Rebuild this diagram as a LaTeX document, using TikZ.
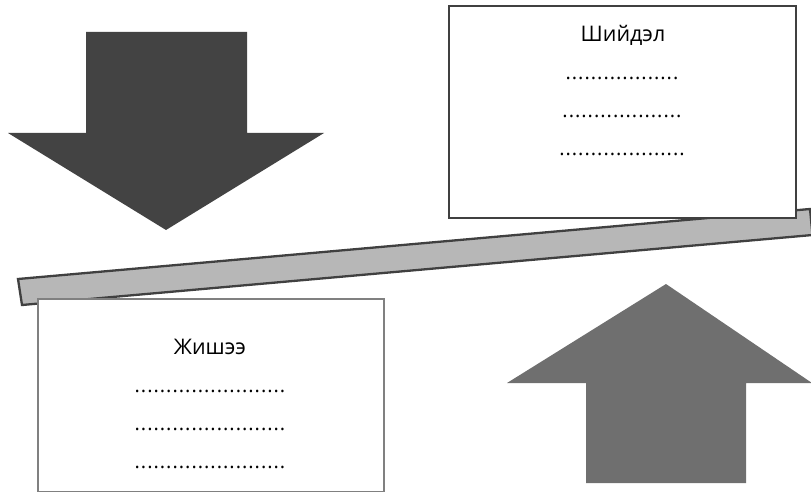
\documentclass[tikz,border=0pt]{standalone}
\usepackage{fontspec}
\setmainfont{Open Sans}
\begin{document}
\begin{tikzpicture}[x=1pt,y=-1pt,
  titletext/.style={font=\fontsize{21.5}{24}\selectfont, anchor=base, inner sep=0pt},
  dottext/.style={font=\fontsize{20}{22}\selectfont, anchor=base, inner sep=0pt},
  boxshape/.style={anchor=north west, fill=white, inner sep=0pt, line width=2.3pt},
]
\useasboundingbox (0,0) rectangle (811,492);
% arrows
\fill[fill={rgb,255:red,67;green,67;blue,67}] (86,32) -- (247,32) -- (247,133) -- (324,133) -- (166,230) -- (8,133) -- (86,133) -- cycle;
\fill[fill={rgb,255:red,111;green,111;blue,111}] (666,284) -- (812,383) -- (746,383) -- (746,483) -- (586,483) -- (586,383) -- (507,383) -- cycle;
% plank
\draw[line width=2.3pt, draw={rgb,255:red,64;green,64;blue,64}, fill={rgb,255:red,183;green,183;blue,183}, line join=miter]
  (18,279) -- (810,209) -- (812.5,235) -- (22,305) -- cycle;
% boxes
\node[boxshape, draw={rgb,255:red,64;green,64;blue,64}, minimum width=347pt, minimum height=212pt] (sol) at (448,5) {};
\node[boxshape, draw={rgb,255:red,128;green,128;blue,128}, line width=2pt, minimum width=346pt, minimum height=193pt] (ex) at (37,298) {};
% texts
\node[titletext] (solt) at (623,42) {Шийдэл};
\node[dottext] (sd1) at (622,80) {.\foreach \i in {2,...,18}{\kern1.0pt.}};
\node[dottext] (sd2) at (622,118) {.\foreach \i in {2,...,19}{\kern1.0pt.}};
\node[dottext] (sd3) at (622,156) {.\foreach \i in {2,...,20}{\kern1.0pt.}};
\node[titletext] (ext) at (210,354) {Жишээ};
\node[dottext] (ed1) at (210,392) {.\foreach \i in {2,...,24}{\kern1.0pt.}};
\node[dottext] (ed2) at (210,430) {.\foreach \i in {2,...,24}{\kern1.0pt.}};
\node[dottext] (ed3) at (210,468) {.\foreach \i in {2,...,24}{\kern1.0pt.}};
\end{tikzpicture}
\end{document}
